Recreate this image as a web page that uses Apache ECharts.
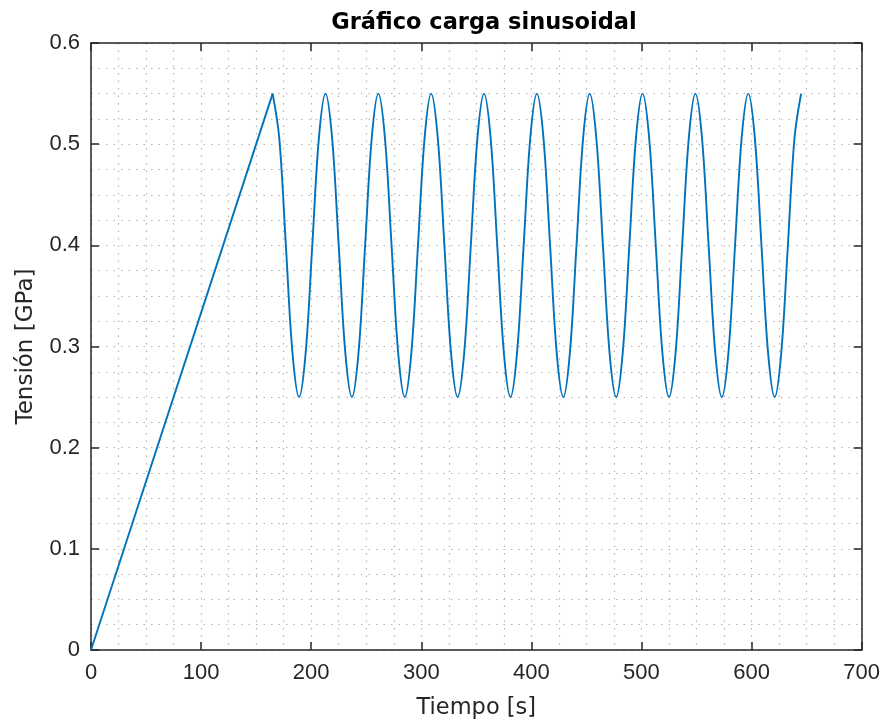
<!DOCTYPE html>
<html>
<head>
<meta charset="utf-8">
<script src="https://cdn.jsdelivr.net/npm/echarts@6/dist/echarts.min.js"></script>
<style>html,body{margin:0;padding:0;background:#fff;}#chart{width:883px;height:725px;}</style>
</head>
<body>
<div id="chart"></div>
<script>
// Ramp phase (loading up to the first peak)
const rampTime = [0, 165];
const rampStress = [0, 0.55];

// Sinusoidal phase, read at ~6 s steps (period ≈ 48 s, 0.25–0.55 GPa)
const sineTime = [
  165,171,177,183,189,195,201,207,
  213,219,225,231,237,243,249,255,
  261,267,273,279,285,291,297,303,
  309,315,321,327,333,339,345,351,
  357,363,369,375,381,387,393,399,
  405,411,417,423,429,435,441,447,
  453,459,465,471,477,483,489,495,
  501,507,513,519,525,531,537,543,
  549,555,561,567,573,579,585,591,
  597,603,609,615,621,627,633,639,
  645
];
const sineStress = [
  0.55,0.506,0.40,0.294,0.25,0.294,0.40,0.506,
  0.55,0.506,0.40,0.294,0.25,0.294,0.40,0.506,
  0.55,0.506,0.40,0.294,0.25,0.294,0.40,0.506,
  0.55,0.506,0.40,0.294,0.25,0.294,0.40,0.506,
  0.55,0.506,0.40,0.294,0.25,0.294,0.40,0.506,
  0.55,0.506,0.40,0.294,0.25,0.294,0.40,0.506,
  0.55,0.506,0.40,0.294,0.25,0.294,0.40,0.506,
  0.55,0.506,0.40,0.294,0.25,0.294,0.40,0.506,
  0.55,0.506,0.40,0.294,0.25,0.294,0.40,0.506,
  0.55,0.506,0.40,0.294,0.25,0.294,0.40,0.506,
  0.55
];

const titleText = 'Gráfico carga sinusoidal';
const xName = 'Tiempo [s]';
const yName = 'Tensión [GPa]';

const FONT = '"Liberation Sans", Arial, Helvetica, sans-serif';
const FONT2 = '"DejaVu Sans", "Liberation Sans", sans-serif';
const AX = '#262626';
const GRIDC = '#b4b4b4';
const LINEC = '#0072BD';

const zip = (a, b) => a.map((v, i) => [v, b[i]]);

const dotted = { color: GRIDC, width: 1.2, type: [1.5, 6] };

const chart = echarts.init(document.getElementById('chart'), null, { renderer: 'canvas' });
chart.setOption({
  animation: false,
  backgroundColor: '#ffffff',
  title: {
    text: titleText, left: 479, top: 7, textAlign: 'center',
    textStyle: { fontFamily: FONT2, fontWeight: 'bold', fontSize: 22.5, color: '#000' }
  },
  grid: { left: 91, right: 21, top: 43, bottom: 73, containLabel: false },
  xAxis: [{
    type: 'value', min: 0, max: 700, interval: 100, position: 'bottom',
    name: xName, nameLocation: 'middle', nameGap: 47,
    nameTextStyle: { fontFamily: FONT2, fontSize: 22.5, color: AX },
    axisLine: { show: true, onZero: false, lineStyle: { color: AX, width: 1.5 } },
    axisTick: { show: true, inside: true, length: 8, lineStyle: { color: AX, width: 1.5 } },
    axisLabel: { margin: 12, fontFamily: FONT, fontSize: 22, color: AX },
    splitLine: { show: true, lineStyle: dotted },
    minorTick: { show: false, splitNumber: 4 },
    minorSplitLine: { show: true, lineStyle: dotted }
  }, {
    type: 'value', min: 0, max: 700, interval: 100, position: 'top',
    axisLine: { show: true, onZero: false, lineStyle: { color: AX, width: 1.5 } },
    axisTick: { show: true, inside: true, length: 8, lineStyle: { color: AX, width: 1.5 } },
    axisLabel: { show: false }, splitLine: { show: false }
  }],
  yAxis: [{
    type: 'value', min: 0, max: 0.6, interval: 0.1, position: 'left',
    name: yName, nameLocation: 'middle', nameGap: 53,
    nameTextStyle: { fontFamily: FONT2, fontSize: 23, color: AX },
    axisLine: { show: true, onZero: false, lineStyle: { color: AX, width: 1.5 } },
    axisTick: { show: true, inside: true, length: 8, lineStyle: { color: AX, width: 1.5 } },
    axisLabel: { margin: 11, fontFamily: FONT, fontSize: 22, color: AX,
      formatter: v => (Math.round(v * 10) / 10).toString() },
    splitLine: { show: true, lineStyle: dotted },
    minorTick: { show: false, splitNumber: 4 },
    minorSplitLine: { show: true, lineStyle: dotted }
  }, {
    type: 'value', min: 0, max: 0.6, interval: 0.1, position: 'right',
    axisLine: { show: true, onZero: false, lineStyle: { color: AX, width: 1.5 } },
    axisTick: { show: true, inside: true, length: 8, lineStyle: { color: AX, width: 1.5 } },
    axisLabel: { show: false }, splitLine: { show: false }
  }],
  series: [{
    type: 'line', xAxisIndex: 0, yAxisIndex: 0,
    data: zip(rampTime, rampStress),
    showSymbol: false, symbol: 'none',
    lineStyle: { color: LINEC, width: 1.9 }
  }, {
    type: 'line', xAxisIndex: 0, yAxisIndex: 0,
    data: zip(sineTime, sineStress),
    showSymbol: false, symbol: 'none', smooth: 0.35,
    lineStyle: { color: LINEC, width: 1.9 }
  }]
});
</script>
</body>
</html>
